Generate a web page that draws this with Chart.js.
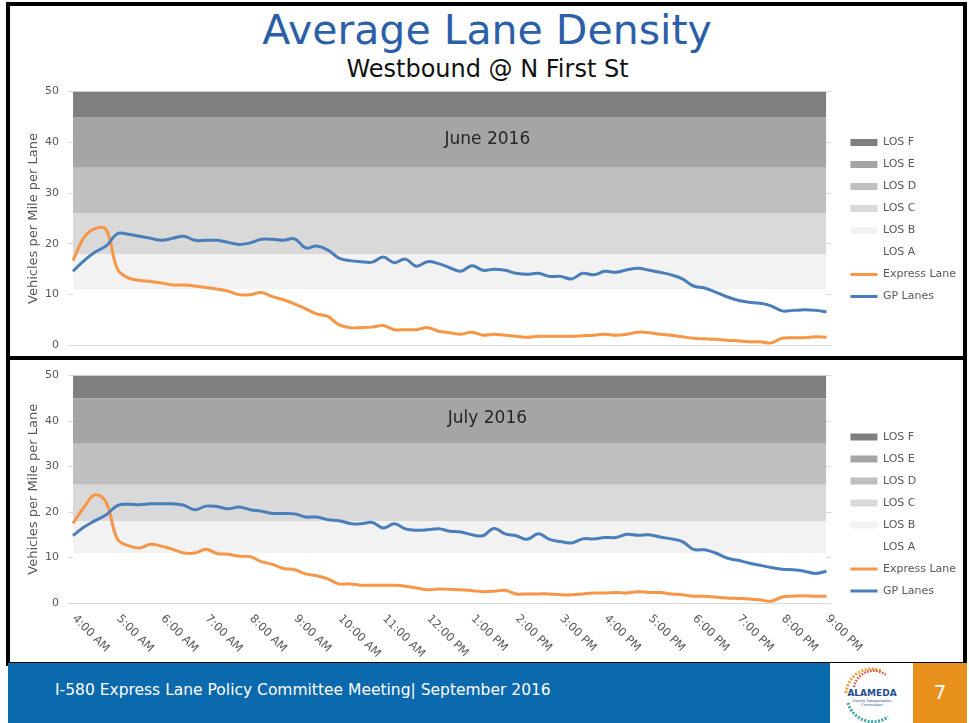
<!DOCTYPE html>
<html>
<head>
<meta charset="utf-8">
<script src="https://cdn.jsdelivr.net/npm/chart.js@4.4.0/dist/chart.umd.min.js"></script>
<style>
html,body{margin:0;padding:0;background:#fff;width:969px;height:723px;overflow:hidden;font-family:"DejaVu Sans",sans-serif;}
.panel{position:absolute;box-sizing:border-box;border:4px solid #000;}
#p1{left:6px;top:2px;width:961px;height:358px;}
#p2{left:6px;top:356px;width:961px;height:310px;}
#title{position:absolute;left:0;width:974px;top:5px;text-align:center;font-size:41px;line-height:50px;color:#2c5fa8;white-space:nowrap;}
#subtitle{position:absolute;left:0;width:975px;top:54px;text-align:center;font-size:24px;line-height:30px;color:#111;white-space:nowrap;}
canvas{position:absolute;}
#c1{left:10px;top:76px;}
#c2{left:10px;top:360px;}
#footer{position:absolute;left:8px;top:663px;width:822px;height:60px;background:#0b69ad;}
#ftext{position:absolute;left:47px;top:17px;font-size:15.5px;line-height:20px;color:#fff;white-space:nowrap;}
#logo{position:absolute;left:830px;top:663px;width:83px;height:60px;background:#fff;}
#pagebox{position:absolute;left:913px;top:663px;width:54px;height:60px;background:#e8901c;color:#fff;font-size:20px;line-height:58px;text-align:center;}
</style>
</head>
<body>
<div class="panel" id="p1"></div>
<div class="panel" id="p2"></div>
<div id="title">Average Lane Density</div>
<div id="subtitle">Westbound @ N First St</div>
<canvas id="c1" width="956" height="285"></canvas>
<canvas id="c2" width="956" height="300"></canvas>
<div id="footer"><div id="ftext">I-580 Express Lane Policy Committee Meeting| September 2016</div></div>
<div id="logo">
<svg width="83" height="60" viewBox="0 0 83 60">
<path d="M16 30 A26 26 0 0 1 52 8" stroke="#e8a23a" stroke-width="3" fill="none" stroke-dasharray="2 1.5"/>
<path d="M24 24 A20 20 0 0 1 56 12" stroke="#d9463c" stroke-width="2.5" fill="none" stroke-dasharray="1.5 1.5"/>
<path d="M18 40 A26 26 0 0 0 58 54" stroke="#3aa6a0" stroke-width="3" fill="none" stroke-dasharray="2 1.5"/>
<text x="42" y="33" font-size="9" font-weight="bold" fill="#1f4e8c" text-anchor="middle" font-family="DejaVu Sans">ALAMEDA</text>
<text x="42" y="39" font-size="3.5" fill="#1f4e8c" text-anchor="middle" font-family="DejaVu Sans">County Transportation</text>
<text x="42" y="43" font-size="3.5" fill="#1f4e8c" text-anchor="middle" font-family="DejaVu Sans">Commission</text>
</svg>
</div>
<div id="pagebox">7</div>
<script>
// ---- data ----
const timeLabels = ['4:00 AM','4:15 AM','4:30 AM','4:45 AM','5:00 AM','5:15 AM','5:30 AM','5:45 AM',
'6:00 AM','6:15 AM','6:30 AM','6:45 AM','7:00 AM','7:15 AM','7:30 AM','7:45 AM',
'8:00 AM','8:15 AM','8:30 AM','8:45 AM','9:00 AM','9:15 AM','9:30 AM','9:45 AM',
'10:00 AM','10:15 AM','10:30 AM','10:45 AM','11:00 AM','11:15 AM','11:30 AM','11:45 AM',
'12:00 PM','12:15 PM','12:30 PM','12:45 PM','1:00 PM','1:15 PM','1:30 PM','1:45 PM',
'2:00 PM','2:15 PM','2:30 PM','2:45 PM','3:00 PM','3:15 PM','3:30 PM','3:45 PM',
'4:00 PM','4:15 PM','4:30 PM','4:45 PM','5:00 PM','5:15 PM','5:30 PM','5:45 PM',
'6:00 PM','6:15 PM','6:30 PM','6:45 PM','7:00 PM','7:15 PM','7:30 PM','7:45 PM',
'8:00 PM','8:15 PM','8:30 PM','8:45 PM','9:00 PM'];
const hourTicks = ['4:00 AM','5:00 AM','6:00 AM','7:00 AM','8:00 AM','9:00 AM','10:00 AM','11:00 AM',
'12:00 PM','1:00 PM','2:00 PM','3:00 PM','4:00 PM','5:00 PM','6:00 PM','7:00 PM','8:00 PM','9:00 PM'];
const yTicks = [0,10,20,30,40,50];
const losNames = ['LOS A','LOS B','LOS C','LOS D','LOS E','LOS F'];
const losUpper = [11,18,26,35,45,50];
const losColors = ['#ffffff','#f2f2f2','#d9d9d9','#bfbfbf','#a5a5a5','#7f7f7f'];

const juneExpress = [16.7,21.3,23.0,22.8,15.1,13.3,12.8,12.6,12.3,11.9,11.9,11.7,11.4,11.1,10.7,10.0,10.0,10.4,9.6,9.0,
8.2,7.2,6.2,5.7,4.1,3.5,3.5,3.6,3.9,3.1,3.1,3.1,3.5,2.8,2.5,2.2,2.6,2.0,2.2,2.0,
1.8,1.6,1.8,1.8,1.8,1.8,1.9,2.0,2.2,2.0,2.2,2.6,2.5,2.2,2.0,1.7,1.4,1.3,1.2,1.0,
0.9,0.7,0.7,0.5,1.4,1.5,1.5,1.7,1.6];
const juneGP = [14.6,16.7,18.4,19.6,22.0,21.9,21.5,21.1,20.7,21.1,21.5,20.7,20.7,20.7,20.3,19.9,20.2,20.9,20.9,20.7,
21.0,19.2,19.6,18.8,17.2,16.7,16.5,16.4,17.4,16.3,17.0,15.6,16.5,16.1,15.3,14.6,15.7,14.8,15.0,14.8,
14.2,14.0,14.2,13.6,13.6,13.1,14.2,13.9,14.6,14.4,14.9,15.2,14.8,14.4,13.9,13.1,11.7,11.3,10.5,9.6,
8.9,8.5,8.3,7.8,6.8,6.9,7.0,6.9,6.6];
const julyExpress = [17.5,21.1,23.8,22.1,14.1,12.6,12.1,12.9,12.5,11.8,11.0,11.0,11.8,10.9,10.7,10.3,10.2,9.1,8.5,7.6,
7.3,6.4,6.0,5.3,4.2,4.2,3.9,3.9,3.9,3.9,3.7,3.3,2.9,3.1,3.0,2.9,2.7,2.5,2.6,2.8,
2.0,2.0,2.0,2.0,1.8,1.8,2.0,2.2,2.2,2.3,2.2,2.5,2.3,2.3,2.0,1.8,1.5,1.5,1.3,1.1,
1.0,0.9,0.7,0.4,1.3,1.5,1.6,1.5,1.5];
const julyGP = [14.8,16.7,18.1,19.4,21.4,21.7,21.6,21.8,21.8,21.8,21.5,20.5,21.3,21.2,20.7,21.1,20.5,20.2,19.7,19.7,
19.6,18.9,18.9,18.3,18.1,17.5,17.4,17.7,16.5,17.4,16.3,16.0,16.1,16.3,15.8,15.6,15.0,14.8,16.4,15.2,
14.8,14.0,15.2,14.0,13.5,13.2,14.1,14.1,14.4,14.4,15.1,14.9,15.0,14.5,14.1,13.5,11.8,11.7,11.0,9.9,
9.4,8.8,8.3,7.8,7.4,7.3,7.0,6.5,7.0];

const EXPRESS_COLOR = '#f79646';
const GP_COLOR = '#4a7ebb';
const TEXT_GREY = '#595959';
const GRID_GREY = '#d9d9d9';

Chart.defaults.font.family = '"DejaVu Sans", sans-serif';

const decorPlugin = {
  id: 'decor',
  afterDatasetsDraw(chart, args, opts) {
    const ctx = chart.ctx, x = chart.scales.x, y = chart.scales.y;
    ctx.save();
    ctx.font = '17px "DejaVu Sans"';
    ctx.fillStyle = '#262626';
    ctx.textAlign = 'center';
    ctx.textBaseline = 'middle';
    ctx.fillText(opts.label, x.getPixelForValue(opts.labelAt[0]), y.getPixelForValue(opts.labelAt[1]));
    if (opts.xLabels) {
      ctx.font = '11.5px "DejaVu Sans"';
      ctx.fillStyle = TEXT_GREY;
      ctx.textAlign = 'left';
      hourTicks.forEach(t => {
        const px = x.getPixelForValue(timeLabels.indexOf(t));
        ctx.save();
        ctx.translate(px + 1, chart.chartArea.bottom + 14);
        ctx.rotate(Math.PI / 4);
        ctx.fillText(t, 0, 0);
        ctx.restore();
      });
    }
    ctx.restore();
  }
};

function makeChart(id, express, gp, label, xLabels, xAxisHeight, padTop) {
  const first = timeLabels[0], last = timeLabels[timeLabels.length - 1];
  const datasets = [
    {label: 'GP Lanes', data: gp, borderColor: GP_COLOR, backgroundColor: GP_COLOR, borderWidth: 3,
     pointRadius: 0, tension: 0.4, fill: false},
    {label: 'Express Lane', data: express, borderColor: EXPRESS_COLOR, backgroundColor: EXPRESS_COLOR, borderWidth: 3,
     pointRadius: 0, tension: 0.4, fill: false}
  ];
  losNames.forEach((n, i) => {
    datasets.push({
      label: n,
      data: [{x: first, y: losUpper[i]}, {x: last, y: losUpper[i]}],
      borderWidth: 0, borderColor: losColors[i], backgroundColor: losColors[i],
      pointRadius: 0, tension: 0,
      fill: i === 0 ? 'origin' : '-1'
    });
  });
  return new Chart(document.getElementById(id), {
    type: 'line',
    data: {labels: timeLabels, datasets},
    plugins: [decorPlugin],
    options: {
      responsive: false,
      animation: false,
      events: [],
      layout: {padding: {top: padTop, right: 0, bottom: 0, left: 0}},
      scales: {
        x: {
          type: 'category',
          ticks: {display: false},
          grid: {display: false},
          border: {display: true, color: GRID_GREY, width: 1},
          afterFit: s => { s.height = xAxisHeight; }
        },
        y: {
          min: 0, max: 50,
          afterBuildTicks: s => { s.ticks = yTicks.map(v => ({value: v})); },
          ticks: {color: TEXT_GREY, font: {size: 11}, padding: 9},
          grid: {color: GRID_GREY, tickLength: 5, drawTicks: true},
          border: {display: false},
          title: {display: true, text: 'Vehicles per Mile per Lane', color: TEXT_GREY,
                  font: {size: 13}, padding: {top: 16, bottom: 0}},
          afterFit: s => { s.width = 63; }
        },
        y2: {
          position: 'right',
          min: 0, max: 50,
          afterBuildTicks: s => { s.ticks = yTicks.map(v => ({value: v})); },
          ticks: {display: false},
          grid: {color: GRID_GREY, tickLength: 5, drawOnChartArea: false},
          border: {display: false},
          afterFit: s => { s.width = 13; }
        }
      },
      plugins: {
        decor: {label, labelAt: [37.4, 40.6], xLabels},
        tooltip: {enabled: false},
        legend: {
          position: 'right',
          reverse: true,
          labels: {
            color: TEXT_GREY,
            font: {size: 11},
            usePointStyle: true,
            pointStyleWidth: 27,
            boxHeight: 7,
            padding: 11,
            generateLabels: chart => {
              const items = Chart.defaults.plugins.legend.labels.generateLabels(chart);
              return items.map(it => {
                const ds = chart.data.datasets[it.datasetIndex];
                if (it.datasetIndex < 2) {
                  it.pointStyle = 'line';
                  it.strokeStyle = ds.borderColor;
                  it.fillStyle = ds.borderColor;
                  it.lineWidth = 3;
                } else {
                  it.pointStyle = 'rect';
                  it.fillStyle = ds.backgroundColor;
                  it.strokeStyle = ds.backgroundColor;
                  it.lineWidth = 0;
                }
                it.fontColor = TEXT_GREY;
                return it;
              });
            }
          }
        }
      }
    }
  });
}

makeChart('c1', juneExpress, juneGP, 'June 2016', false, 11, 2);
makeChart('c2', julyExpress, julyGP, 'July 2016', true, 57, 8);
</script>
</body>
</html>
